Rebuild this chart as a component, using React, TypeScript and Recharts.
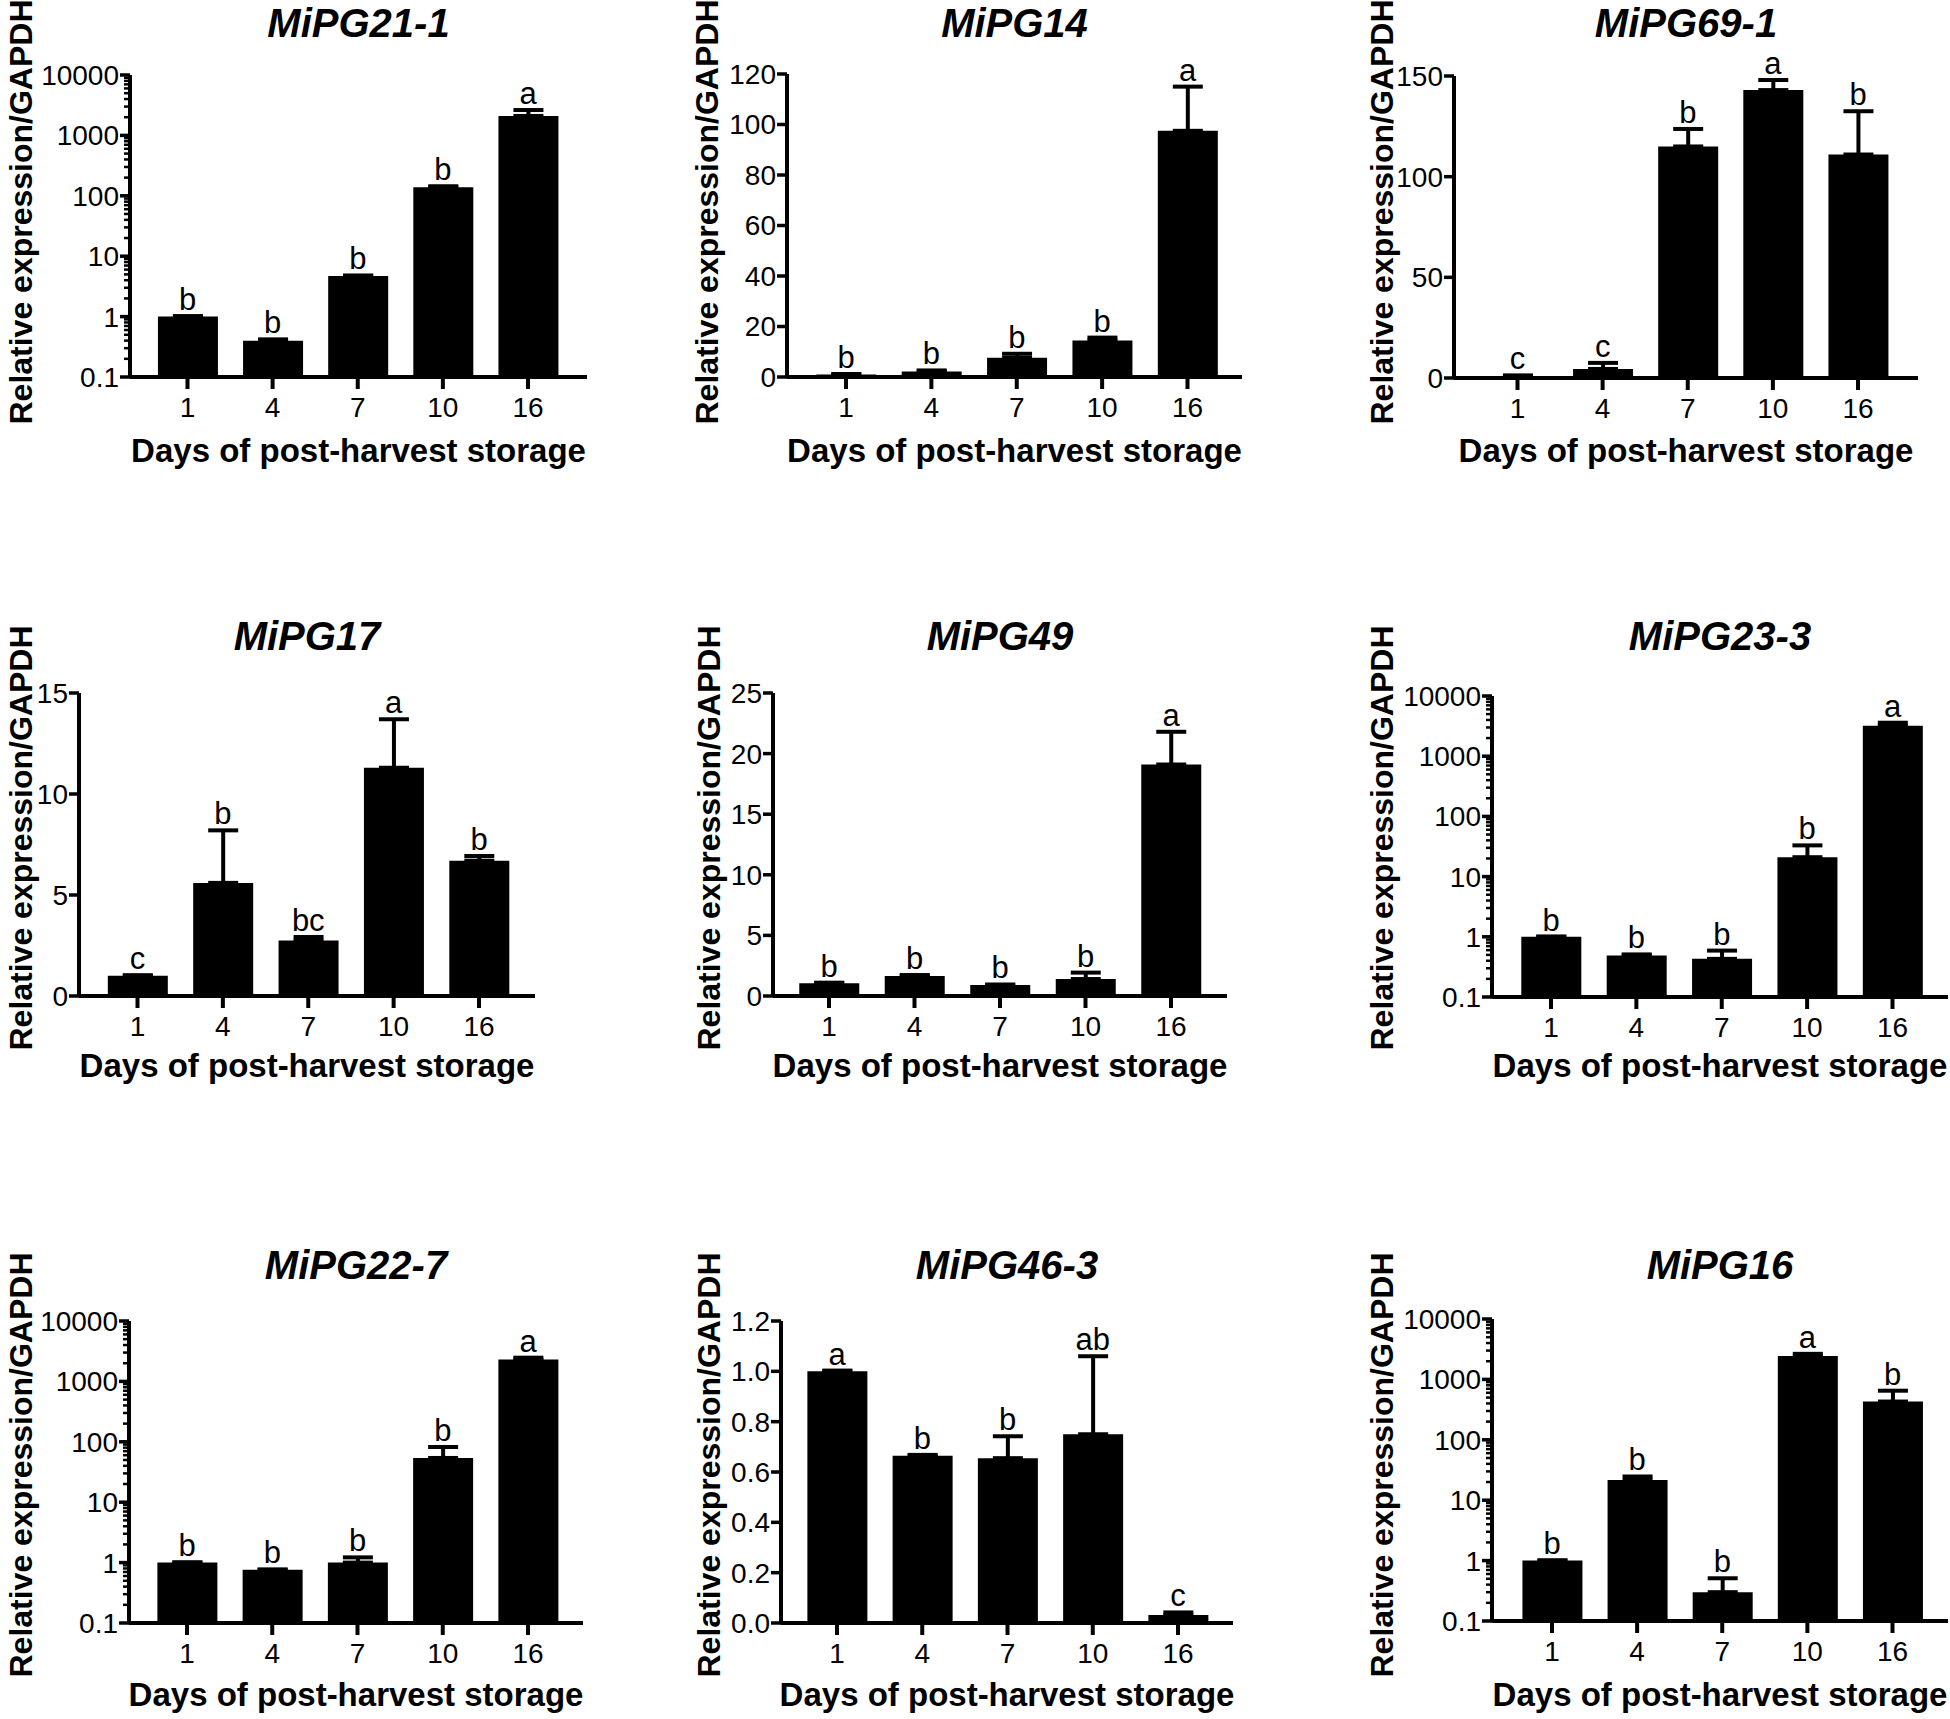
import React from 'react';
import { ComposedChart, Bar, Line, XAxis, YAxis, ErrorBar, LabelList } from 'recharts';

const FONT = "'Liberation Sans', Arial, Helvetica, sans-serif";

// ---------- data ----------
const days = ['1', '4', '7', '10', '16'];
const xAxisTitle = 'Days of post-harvest storage';
const yAxisTitle = 'Relative expression/GAPDH';

const logMajorTicks = [0.1, 1, 10, 100, 1000, 10000];
const logMinorSteps = [2, 3, 4, 5, 6, 7, 8, 9];

const mipg21_1 = [1.0, 0.4, 4.7, 138, 2100];
const mipg21_1Err = [0.02, 0.02, 0.1, 6, 530];
const mipg21_1Sig = ['b', 'b', 'b', 'b', 'a'];

const mipg14 = [1.0, 2.2, 7.6, 14.5, 97.5];
const mipg14Err = [0.2, 0.4, 1.6, 1.1, 17.5];
const mipg14Sig = ['b', 'b', 'b', 'b', 'a'];
const mipg14Ticks = [0, 20, 40, 60, 80, 100, 120];

const mipg69_1 = [1.0, 4.5, 115, 143, 111];
const mipg69_1Err = [0.3, 3, 8.7, 5, 21.5];
const mipg69_1Sig = ['c', 'c', 'b', 'a', 'b'];
const mipg69_1Ticks = [0, 50, 100, 150];

const mipg17 = [1.0, 5.6, 2.75, 11.3, 6.7];
const mipg17Err = [0.03, 2.6, 0.17, 2.4, 0.23];
const mipg17Sig = ['c', 'b', 'bc', 'a', 'b'];
const mipg17Ticks = [0, 5, 10, 15];

const mipg49 = [1.05, 1.65, 0.9, 1.4, 19.1];
const mipg49Err = [0.05, 0.08, 0.05, 0.53, 2.7];
const mipg49Sig = ['b', 'b', 'b', 'b', 'a'];
const mipg49Ticks = [0, 5, 10, 15, 20, 25];

const mipg23_3 = [1.0, 0.49, 0.43, 21, 3200];
const mipg23_3Err = [0.01, 0.02, 0.16, 12, 400];
const mipg23_3Sig = ['b', 'b', 'b', 'b', 'a'];

const mipg22_7 = [1.0, 0.76, 1.0, 54, 2300];
const mipg22_7Err = [0.01, 0.01, 0.22, 28, 170];
const mipg22_7Sig = ['b', 'b', 'b', 'b', 'a'];

const mipg46_3 = [1.0, 0.665, 0.655, 0.75, 0.032];
const mipg46_3Err = [0.003, 0.003, 0.087, 0.31, 0.01];
const mipg46_3Sig = ['a', 'b', 'b', 'ab', 'c'];
const mipg46_3Ticks = [0, 0.2, 0.4, 0.6, 0.8, 1.0, 1.2];

const mipg16 = [1.0, 21.7, 0.3, 2450, 430];
const mipg16Err = [0.01, 3, 0.21, 200, 220];
const mipg16Sig = ['b', 'b', 'b', 'a', 'b'];

// ---------- layout (page pixels) ----------
const rows = [
  { titleY: 37, xlabY: 462, ylabY: 212 },
  { titleY: 650, xlabY: 1077, ylabY: 838 },
  { titleY: 1279, xlabY: 1706, ylabY: 1465 },
];

const layouts = [
  { row: 0, axisX: 130, top: 75, bottom: 377, c1: 187.5, c5: 528, xEnd: 587, ylabX: 20 },
  { row: 0, axisX: 787, top: 74, bottom: 377, c1: 846, c5: 1187.5, xEnd: 1242, ylabX: 706 },
  { row: 0, axisX: 1454, top: 76, bottom: 378, c1: 1517.5, c5: 1858, xEnd: 1918, ylabX: 1381 },
  { row: 1, axisX: 79, top: 693, bottom: 996, c1: 137.5, c5: 479, xEnd: 535, ylabX: 20 },
  { row: 1, axisX: 773, top: 693, bottom: 996, c1: 829, c5: 1171, xEnd: 1227, ylabX: 708 },
  { row: 1, axisX: 1492, top: 696, bottom: 997, c1: 1551, c5: 1892.5, xEnd: 1948, ylabX: 1381 },
  { row: 2, axisX: 129, top: 1321, bottom: 1623, c1: 187, c5: 528, xEnd: 583, ylabX: 20 },
  { row: 2, axisX: 781, top: 1321, bottom: 1623, c1: 837, c5: 1178, xEnd: 1233, ylabX: 708 },
  { row: 2, axisX: 1492, top: 1319, bottom: 1621, c1: 1552, c5: 1892.5, xEnd: 1948, ylabX: 1381 },
];

type PanelCfg = {
  title: string;
  values: number[];
  errs: number[];
  sig: string[];
  log: boolean;
  domain: [number, number];
  ticks: number[];
  fmt: (v: number) => string;
};

const plain = (v: number) => String(v);
const oneDec = (v: number) => v.toFixed(1);

const buildLogTicks = () => {
  const out: number[] = [];
  logMajorTicks.forEach((m, i) => {
    out.push(m);
    if (i < logMajorTicks.length - 1) logMinorSteps.forEach((s) => out.push(m * s));
  });
  return out;
};
const logTicks = buildLogTicks();

const panels: PanelCfg[] = [
  { title: 'MiPG21-1', values: mipg21_1, errs: mipg21_1Err, sig: mipg21_1Sig, log: true, domain: [0.1, 10000], ticks: logTicks, fmt: plain },
  { title: 'MiPG14', values: mipg14, errs: mipg14Err, sig: mipg14Sig, log: false, domain: [0, 120], ticks: mipg14Ticks, fmt: plain },
  { title: 'MiPG69-1', values: mipg69_1, errs: mipg69_1Err, sig: mipg69_1Sig, log: false, domain: [0, 150], ticks: mipg69_1Ticks, fmt: plain },
  { title: 'MiPG17', values: mipg17, errs: mipg17Err, sig: mipg17Sig, log: false, domain: [0, 15], ticks: mipg17Ticks, fmt: plain },
  { title: 'MiPG49', values: mipg49, errs: mipg49Err, sig: mipg49Sig, log: false, domain: [0, 25], ticks: mipg49Ticks, fmt: plain },
  { title: 'MiPG23-3', values: mipg23_3, errs: mipg23_3Err, sig: mipg23_3Sig, log: true, domain: [0.1, 10000], ticks: logTicks, fmt: plain },
  { title: 'MiPG22-7', values: mipg22_7, errs: mipg22_7Err, sig: mipg22_7Sig, log: true, domain: [0.1, 10000], ticks: logTicks, fmt: plain },
  { title: 'MiPG46-3', values: mipg46_3, errs: mipg46_3Err, sig: mipg46_3Sig, log: false, domain: [0, 1.2], ticks: mipg46_3Ticks, fmt: oneDec },
  { title: 'MiPG16', values: mipg16, errs: mipg16Err, sig: mipg16Sig, log: true, domain: [0.1, 10000], ticks: logTicks, fmt: plain },
];

const YW = 140;
const MT = 60;
const MR = 2;
const XH = 70;

function YTick(props: any) {
  const { y, payload, isLog, fmt } = props;
  const v = payload.value as number;
  const major = !isLog || Math.abs(Math.log10(v) - Math.round(Math.log10(v))) < 1e-6;
  const len = major ? 10 : 6;
  return (
    <g>
      <line x1={YW - len} y1={y} x2={YW} y2={y} stroke="#000" strokeWidth={major ? 3.5 : 2.5} />
      {major && (
        <text x={YW - 11} y={y} dy="0.355em" textAnchor="end" fill="#000" fontSize={28} fontFamily={FONT}>
          {fmt(v)}
        </text>
      )}
    </g>
  );
}

function Panel({ cfg, L }: { cfg: PanelCfg; L: any }) {
  const plotW = L.xEnd - L.axisX;
  const plotH = L.bottom - L.top;
  const band = (L.c5 - L.c1) / 4;
  const padL = L.c1 - L.axisX - band / 2;
  const padR = L.xEnd - L.c5 - band / 2;
  const data = days.map((d, i) => ({
    day: d,
    value: cfg.values[i],
    err: [0, cfg.errs[i]],
    top: cfg.values[i] + cfg.errs[i],
    sig: cfg.sig[i],
  }));
  return (
    <div style={{ position: 'absolute', left: L.axisX - YW, top: L.top - MT }}>
      <ComposedChart
        width={YW + plotW + MR}
        height={MT + plotH + XH}
        data={data}
        margin={{ top: MT, right: MR, bottom: 0, left: 0 }}
      >
        <XAxis
          dataKey="day"
          type="category"
          height={XH}
          padding={{ left: padL, right: padR }}
          tickSize={12}
          tickMargin={8}
          interval={0}
          axisLine={{ stroke: '#000', strokeWidth: 4 }}
          tickLine={{ stroke: '#000', strokeWidth: 4 }}
          tick={{ fill: '#000', fontSize: 28, fontFamily: FONT }}
        />
        <YAxis
          type="number"
          scale={cfg.log ? 'log' : 'linear'}
          domain={cfg.domain}
          ticks={cfg.ticks}
          interval={0}
          width={YW}
          allowDataOverflow
          axisLine={{ stroke: '#000', strokeWidth: 4 }}
          tickLine={false}
          tick={(p: any) => <YTick {...p} isLog={cfg.log} fmt={cfg.fmt} />}
        />
        <Bar dataKey="value" fill="#000" barSize={60} isAnimationActive={false}>
          <ErrorBar dataKey="err" width={15} stroke="#000" strokeWidth={4} direction="y" />
        </Bar>
        <Line
          dataKey="top"
          stroke="none"
          dot={false}
          activeDot={false}
          legendType="none"
          isAnimationActive={false}
        >
          <LabelList dataKey="sig" position="top" offset={6} fill="#000" fontSize={31} fontFamily={FONT} />
        </Line>
      </ComposedChart>
    </div>
  );
}

export default function App() {
  return (
    <div
      style={{
        position: 'absolute',
        left: 0,
        top: 0,
        width: 1950,
        height: 1719,
        overflow: 'hidden',
        background: '#fff',
      }}
    >
      {panels.map((p, i) => (
        <Panel key={p.title} cfg={p} L={layouts[i]} />
      ))}
      <svg width={1950} height={1719} style={{ position: 'absolute', left: 0, top: 0, pointerEvents: 'none' }}>
        {panels.map((p, i) => {
          const L = layouts[i];
          const R = rows[L.row];
          const cx = (L.axisX + L.xEnd) / 2;
          return (
            <g key={p.title} fontFamily={FONT} fill="#000">
              <text x={cx} y={R.titleY} textAnchor="middle" fontSize={40} fontWeight="bold" fontStyle="italic">
                {p.title}
              </text>
              <text x={cx} y={R.xlabY} textAnchor="middle" fontSize={33} fontWeight="bold">
                {xAxisTitle}
              </text>
              <text
                transform={`translate(${L.ylabX + 11.5},${R.ylabY}) rotate(-90)`}
                textAnchor="middle"
                fontSize={32}
                fontWeight="bold"
              >
                {yAxisTitle}
              </text>
            </g>
          );
        })}
      </svg>
    </div>
  );
}
